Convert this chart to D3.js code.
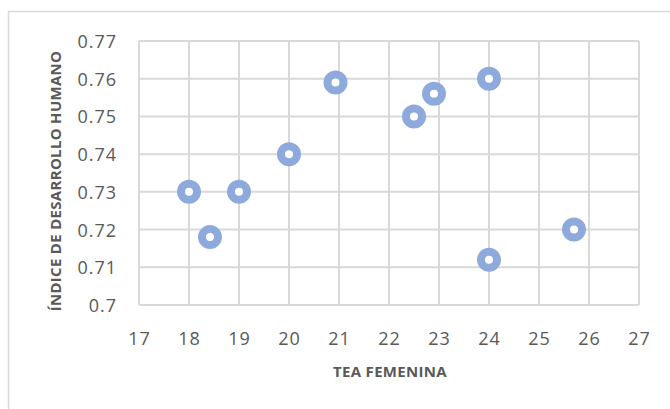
<!DOCTYPE html>
<html>
<head>
<meta charset="utf-8">
<script src="https://cdn.jsdelivr.net/npm/d3@7"></script>
<style>
  body { margin: 0; background: #fff; }
  #plot { width: 670px; height: 409px; }
</style>
</head>
<body>
<div id="plot"></div>
<script>
// values
var teaFemenina = [18, 18.42, 19, 20, 20.93, 22.5, 22.9, 24, 24, 25.7];
var idh = [0.730, 0.718, 0.730, 0.740, 0.759, 0.750, 0.756, 0.760, 0.712, 0.720];
var xTicks = [17, 18, 19, 20, 21, 22, 23, 24, 25, 26, 27];
var yTicks = [0.70, 0.71, 0.72, 0.73, 0.74, 0.75, 0.76, 0.77];

var width = 670, height = 409;
var margin = {t:41, r:31, b:104, l:139};

var svg = d3.select('#plot')
	.append('svg')
	.attr('width', width)
	.attr('height', height);

// outer chart frame
svg.append('rect')
	.attr('x', 8.5)
	.attr('y', 11.5)
	.attr('width', 700)
	.attr('height', 500)
	.style('fill', 'none')
	.style('stroke', '#d9d9d9')
	.style('stroke-width', '1.5px');

var x = d3.scaleLinear().domain([17, 27]).range([margin.l, width - margin.r]);
var y = d3.scaleLinear().domain([0.70, 0.77]).range([height - margin.b, margin.t]);

var grid = svg.append('g');
xTicks.forEach(function (t) {
	grid.append('line')
		.attr('x1', x(t)).attr('x2', x(t))
		.attr('y1', y(0.70)).attr('y2', y(0.77))
		.style('stroke', '#d9d9d9')
		.style('stroke-width', '2px');
});
yTicks.forEach(function (t) {
	grid.append('line')
		.attr('x1', x(17)).attr('x2', x(27))
		.attr('y1', y(t)).attr('y2', y(t))
		.style('stroke', '#d9d9d9')
		.style('stroke-width', '2px');
});

var font = '"Open Sans", sans-serif';

svg.append('g').selectAll('text')
	.data(xTicks)
	.enter().append('text')
	.attr('x', function (d) { return x(d) + 0.5; })
	.attr('y', y(0.70) + 40)
	.attr('text-anchor', 'middle')
	.style('font-family', font)
	.style('font-size', '18px')
	.style('letter-spacing', '1px')
	.style('fill', '#595959')
	.text(function (d) { return d; });

svg.append('g').selectAll('text')
	.data(yTicks)
	.enter().append('text')
	.attr('x', x(17) - 22)
	.attr('y', function (d) { return y(d) + 7; })
	.attr('text-anchor', 'end')
	.style('font-family', font)
	.style('font-size', '18px')
	.style('letter-spacing', '1px')
	.style('fill', '#595959')
	.text(function (d) { return +d.toFixed(2); });

svg.append('text')
	.attr('x', 390)
	.attr('y', 377)
	.attr('text-anchor', 'middle')
	.style('font-family', font)
	.style('font-size', '15px')
	.style('font-weight', 'bold')
	.style('letter-spacing', '0.3px')
	.style('fill', '#595959')
	.text('TEA FEMENINA');

svg.append('text')
	.attr('transform', 'translate(61,181) rotate(-90)')
	.attr('text-anchor', 'middle')
	.style('font-family', font)
	.style('font-size', '15px')
	.style('font-weight', 'bold')
	.style('letter-spacing', '0.3px')
	.style('fill', '#595959')
	.text('ÍNDICE DE DESARROLLO HUMANO');

svg.append('g').selectAll('circle')
	.data(teaFemenina)
	.enter().append('circle')
	.attr('cx', function (d) { return x(d); })
	.attr('cy', function (d, i) { return y(idh[i]); })
	.attr('r', 8)
	.style('fill', '#fff')
	.style('stroke', '#8eaadc')
	.style('stroke-width', '8px');
</script>
</body>
</html>
